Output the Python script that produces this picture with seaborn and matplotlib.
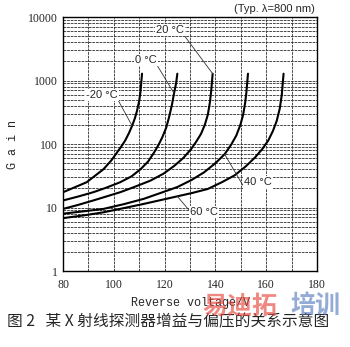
import matplotlib
matplotlib.use("Agg")
import matplotlib.pyplot as plt
import seaborn as sns
import pandas as pd
import numpy as np

# ---- data ----
v_m20 = [80, 84.6, 89.3, 95.9, 99.0, 101.2, 103.0, 104.5, 106.0, 107.2, 108.3, 109.1, 110.0, 110.5, 111.1]
g_m20 = [17.4, 20.8, 25, 40, 55, 73, 92, 114, 150, 194, 255, 330, 480, 670, 1280]

v_0 = [80, 86.0, 91.9, 97.0, 102.5, 107.0, 110.5, 113.5, 115.8, 117.6, 119.1, 120.6, 121.7, 122.9, 123.7, 124.5, 125.0]
g_0 = [12.9, 14.9, 17.4, 20.5, 25, 31, 40, 53, 73, 97, 128, 180, 260, 420, 630, 900, 1280]

v_20 = [80, 86.0, 91.9, 97.0, 102.5, 108.0, 114.4, 119.5, 123.7, 127.3, 130.3, 132.5, 134.3, 135.8, 137.0, 137.8, 138.3, 138.9]
g_20 = [9.5, 11.0, 12.9, 14.9, 17.4, 21, 26.5, 34, 45, 60, 82, 110, 144, 200, 290, 450, 670, 1280]

v_40 = [80, 88.0, 95.9, 104.0, 111.8, 118.5, 125.0, 130.5, 135.6, 140.0, 143.6, 146.2, 148.2, 149.8, 150.9, 151.7, 152.2, 152.8]
g_40 = [8.0, 8.7, 9.5, 11.3, 13.7, 17, 21, 27, 36, 50, 69, 98, 136, 200, 290, 450, 670, 1280]

v_60 = [80, 88.0, 95.9, 104.0, 111.8, 118.5, 125.0, 131.0, 137.0, 142.5, 147.5, 151.8, 155.5, 158.4, 160.8, 162.6, 164.1, 165.3, 166.1, 166.8]
g_60 = [6.8, 7.5, 8.4, 9.8, 11.4, 13.1, 15.0, 17.0, 19.6, 25, 32, 44, 61, 83, 114, 160, 231, 360, 595, 1280]

temps = ["-20 °C", "0 °C", "20 °C", "40 °C", "60 °C"]
x_ticks = [80, 100, 120, 140, 160, 180]
y_ticks = [1, 10, 100, 1000, 10000]
y_tick_labels = ["1", "10", "100", "1000", "10000"]

series = [(v_m20, g_m20), (v_0, g_0), (v_20, g_20), (v_40, g_40), (v_60, g_60)]
frames = []
for t, (v, g) in zip(temps, series):
    frames.append(pd.DataFrame({"V": v, "G": g, "T": t}))
df = pd.concat(frames, ignore_index=True)

sns.set_style("white")
plt.rcParams["font.family"] = ["Liberation Sans", "DejaVu Sans"]

fig = plt.figure(figsize=(3.5, 3.47), dpi=100)
ax = fig.add_axes([0.18, 0.219, 0.726, 0.732])

ax.set_yscale("log")
ax.set_xlim(80, 180)
ax.set_ylim(1, 10000)

ax.set_xticks(np.arange(80, 181, 10))
ax.grid(True, which="major", axis="both", color="#3a3a3a", lw=0.65, ls=(0, (3, 1)))
ax.grid(True, which="minor", axis="y", color="#3a3a3a", lw=0.65, ls=(0, (3, 1)))

sns.lineplot(data=df, x="V", y="G", units="T", estimator=None, sort=False,
             color="black", lw=1.5, ax=ax, legend=False)

ax.set_xticks(np.arange(80, 181, 10))
ax.set_xticklabels([str(t) if t in x_ticks else "" for t in np.arange(80, 181, 10)],
                   fontfamily="Liberation Serif", fontsize=8.5)
ax.set_yticks(y_ticks)
ax.set_yticklabels(y_tick_labels, fontfamily="Liberation Serif", fontsize=8.5)
ax.tick_params(axis="both", which="both", length=0, pad=4)
ax.tick_params(axis="x", pad=6)
ax.yaxis.set_minor_formatter(matplotlib.ticker.NullFormatter())

for s in ax.spines.values():
    s.set_color("black")
    s.set_linewidth(1.0)

ax.set_xlabel("Reverse voltage/V", fontfamily="Liberation Mono", fontsize=8.5, labelpad=4)
ax.set_ylabel("G a i n", fontfamily="Liberation Mono", fontsize=8.5, labelpad=6)

lab_kw = dict(fontsize=8, ha="center", va="center",
              bbox=dict(boxstyle="square,pad=0.1", fc="white", ec="none"))
def leader(text, xy, xytext, relpos):
    ax.annotate(text, xy=xy, xytext=xytext, textcoords="data", zorder=5,
                arrowprops=dict(arrowstyle="-", lw=0.6, color="#333333",
                                relpos=relpos, shrinkA=0, shrinkB=0), **lab_kw)

leader(temps[0], (v_m20[9], g_m20[9]), (95.4, 590), (1, 0))
leader(temps[1], (v_0[14], g_0[14]), (112.7, 2100), (1, 0))
leader(temps[2], (v_20[-1], g_20[-1]), (122.0, 6300), (1, 0))
leader(temps[3], (v_40[10], g_40[10]), (156.8, 24.8), (0, 0))
leader(temps[4], (v_60[6], g_60[6]), (135.5, 8.4), (0, 0.6))

ax.text(0.99, 1.012, "(Typ. λ=800 nm)", transform=ax.transAxes, ha="right", va="bottom",
        fontsize=8)

fig.text(0.02, 0.072, "图 2   某 X 射线探测器增益与偏压的关系示意图",
         family=["Noto Sans CJK SC", "DejaVu Sans"], fontsize=11.3, ha="left", va="center")
fig.text(0.578, 0.118, "易迪拓", family=["Noto Sans CJK SC", "DejaVu Sans"], fontsize=18,
         fontweight="bold", color="#e8483f", alpha=0.65, ha="left", va="center", zorder=10)
fig.text(0.83, 0.118, "培训", family=["Noto Sans CJK SC", "DejaVu Sans"], fontsize=18,
         fontweight="bold", color="#5b7fc0", alpha=0.65, ha="left", va="center", zorder=10)

fig.savefig("out.png", dpi=100, facecolor="white")
